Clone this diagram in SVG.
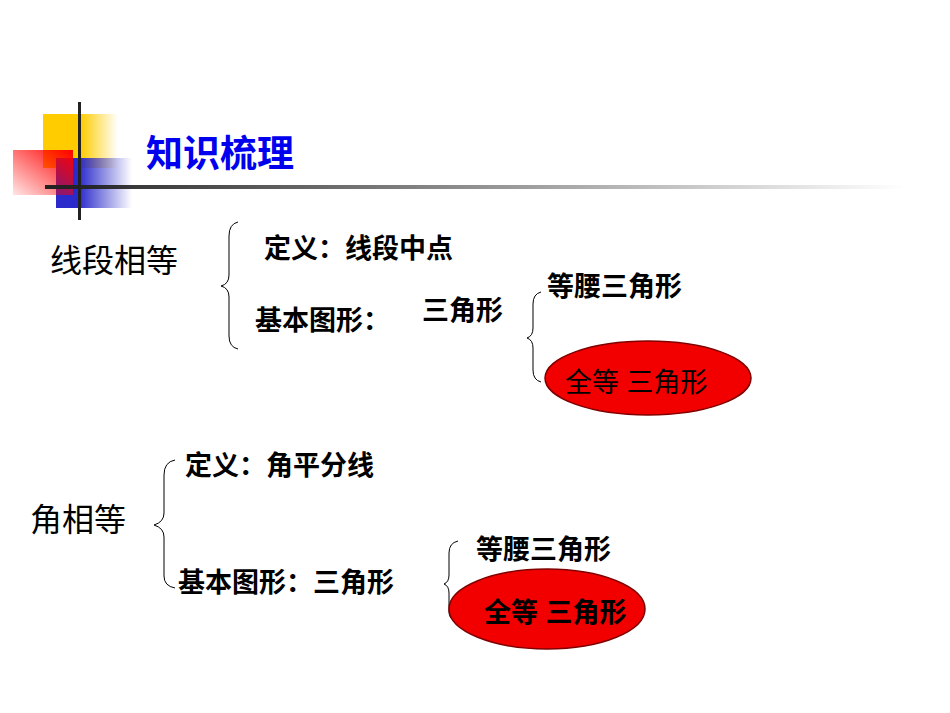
<svg xmlns="http://www.w3.org/2000/svg" width="950" height="713" viewBox="0 0 950 713">
<defs>
<linearGradient id="gy" x1="0" x2="1"><stop offset="0.5" stop-color="#ffcc00"/><stop offset="1" stop-color="#ffcc00" stop-opacity="0"/></linearGradient>
<linearGradient id="gb" x1="0" x2="1"><stop offset="0.3" stop-color="#2b2bcc"/><stop offset="1" stop-color="#2b2bcc" stop-opacity="0"/></linearGradient>
<linearGradient id="gr" x1="1" x2="0" y1="0" y2="1"><stop offset="0" stop-color="#ff0000"/><stop offset="1" stop-color="#ff0000" stop-opacity="0.1"/></linearGradient>
<linearGradient id="gl" x1="0" x2="1"><stop offset="0" stop-color="#222"/><stop offset="1" stop-color="#222" stop-opacity="0"/></linearGradient>
<style>
text{font-family:"Liberation Sans","Noto Sans CJK SC",sans-serif;fill:#000}
.b{font-weight:bold;font-size:27px}
.l{font-size:32px}
.br{fill:none;stroke:#000;stroke-width:1}
.el{fill:#f20000;stroke:#800000;stroke-width:1.5}
</style>
</defs>
<g id="logo">
<rect x="43" y="114" width="75" height="54" fill="url(#gy)"/>
<rect x="56" y="158" width="76" height="50" fill="url(#gb)"/>
<rect x="13" y="150" width="60" height="45" fill="url(#gr)"/>
<rect x="45" y="185" width="860" height="4" fill="url(#gl)"/>
<rect x="78" y="102" width="3" height="118" fill="#222"/>
<text x="146" y="167" style="font-size:37px;font-weight:bold;fill:#0000ee">知识梳理</text>
</g>
<g id="connectors">
<path class="br" d="M238,222 Q229,224 229,236 L229,275 Q229,284 221,286 Q229,288 229,297 L229,336 Q229,347 238,349"/>
<path class="br" d="M541,292 Q533,294 533,304 L533,328 Q533,336 527,338 Q533,340 533,348 L533,370 Q533,380 541,382"/>
<path class="br" d="M175,460 Q164,462 164,475 L164,513 Q164,522 154,525 Q164,528 164,537 L164,576 Q164,586 175,588"/>
<path class="br" d="M458,541 Q449,543 449,553 L449,575 Q449,582 444,584 Q449,586 449,593 L449,612 Q449,620 458,622"/>
</g>
<g id="n1"><text class="l" x="50" y="272">线段相等</text></g>
<g id="n2"><text class="b" x="264" y="258">定义：线段中点</text></g>
<g id="n3"><text class="b" x="255" y="330">基本图形：</text></g>
<g id="n4"><text class="b" x="422" y="320">三角形</text></g>
<g id="n5"><text class="b" x="547" y="296">等腰三角形</text></g>
<g id="n6"><ellipse class="el" cx="648" cy="378" rx="103" ry="37"/><text x="565" y="392" style="font-size:27px">全等  三角形</text></g>
<g id="n7"><text class="l" x="30" y="531">角相等</text></g>
<g id="n8"><text class="b" x="185" y="475">定义：角平分线</text></g>
<g id="n9"><text class="b" x="178" y="592">基本图形：三角形</text></g>
<g id="n10"><text class="b" x="476" y="559">等腰三角形</text></g>
<g id="n11"><ellipse class="el" cx="547" cy="609" rx="98" ry="40"/><text class="b" x="484" y="622">全等  三角形</text></g>
</svg>
